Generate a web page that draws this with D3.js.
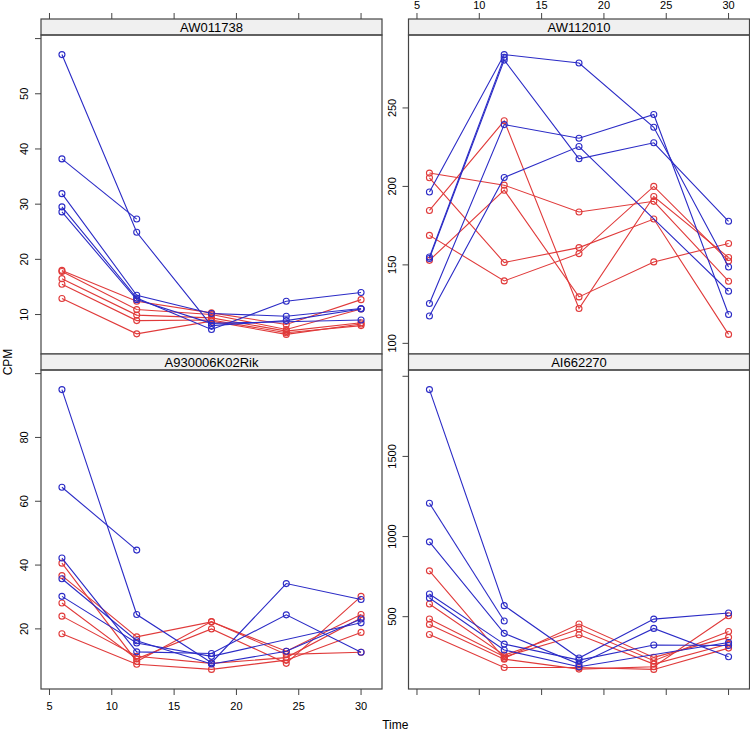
<!DOCTYPE html>
<html>
<head>
<meta charset="utf-8">
<script src="https://cdn.jsdelivr.net/npm/d3@7"></script>
<style>
    body { margin: 0; background: #ffffff; }
    text { font-family: "Liberation Sans", Arial, sans-serif; fill: #000000; }
</style>
</head>
<body>
<div id="chart"></div>
<script>
// sampling times (x axis)
var times = [6, 12, 18, 24, 30];
var genes = ["AW011738", "AW112010", "A930006K02Rik", "AI662270"];

// CPM per replicate, one row per line, null = missing sample
var aw011738Blue = [
    [57.1, 24.9, 8.0, 8.9, 11.0],
    [38.2, 27.3, null, null, null],
    [31.9, 13.5, 10.2, 9.7, 11.1],
    [29.5, 13.0, 7.3, 12.4, 14.0],
    [28.6, 12.7, 8.4, null, 9.0]
];
var aw011738Red = [
    [18.0, 12.4, 10.3, 8.2, 12.7],
    [17.8, 10.9, 10.0, 7.3, 11.0],
    [16.5, 9.9, 9.4, 7.0, 8.5],
    [15.5, 8.9, 9.0, 6.7, 8.0],
    [12.9, 6.5, 8.8, 6.4, 8.3]
];
var aw112010Blue = [
    [196.4, 284.0, 278.6, 237.7, 148.7],
    [155.0, 282.2, null, null, null],
    [154.1, 280.5, 217.6, 227.8, 177.8],
    [125.4, 239.4, 230.7, 245.8, 118.4],
    [117.4, 205.7, 225.4, null, 133.2]
];
var aw112010Red = [
    [208.5, 200.8, 183.7, 190.5, 139.6],
    [205.5, 151.5, 161.0, 179.2, 105.7],
    [184.7, 241.8, 122.2, 193.6, 154.7],
    [168.8, 139.8, 157.2, 200.0, 152.5],
    [152.9, 197.6, 129.6, 151.9, 163.6]
];
var a930006Blue = [
    [95.0, 24.5, 9.4, 34.2, 29.2],
    [64.4, 44.7, null, null, null],
    [42.2, 12.8, 12.3, 24.4, 12.7],
    [35.7, 16.3, 9.0, 13.0, 23.1],
    [30.2, 15.6, 11.4, null, 21.9]
];
var a930006Red = [
    [40.6, 9.8, 22.3, 12.0, 12.7],
    [36.7, 17.5, 22.2, 13.0, 24.5],
    [28.1, 10.6, 20.0, 9.2, 30.2],
    [24.0, 11.4, 9.2, 11.0, 23.4],
    [18.5, 8.9, 7.3, 10.2, 18.9]
];
var ai662270Blue = [
    [1917, 569, 242, 485, 523],
    [1208, 473, null, null, null],
    [967, 396, 204, 427, 250],
    [642, 329, 229, 323, 320],
    [617, 292, 188, null, 339]
];
var ai662270Red = [
    [786, 240, 454, 246, 371],
    [579, 260, 423, 225, 408],
    [486, 250, 387, 204, 329],
    [452, 235, 173, 188, 506],
    [389, 183, 183, 171, 304]
];

var width = 750;
var height = 731;
var blue = "#2b2bc6";
var red = "#e03a3a";
var frame = "#444444";

// panel geometry (lattice-like 2x2 layout)
var panelW = 341;
var panelH = 319;
var stripH = 16;
var colX = [41, 408.5];
var rowY = [19, 354];   // top of strip
var pad = 0.07;         // lattice axis padding

var panels = [
    { gene: genes[0], blue: aw011738Blue, red: aw011738Red, col: 0, row: 0 },
    { gene: genes[1], blue: aw112010Blue, red: aw112010Red, col: 1, row: 0 },
    { gene: genes[2], blue: a930006Blue, red: a930006Red, col: 0, row: 1 },
    { gene: genes[3], blue: ai662270Blue, red: ai662270Red, col: 1, row: 1 }
];

var svg = d3.select("#chart")
    .append("svg")
    .attr("width", width)
    .attr("height", height);

// shared x scale
var tExt = d3.extent(times);
var tPad = (tExt[1] - tExt[0]) * pad;
var x = d3.scaleLinear()
    .domain([tExt[0] - tPad, tExt[1] + tPad])
    .range([0, panelW]);

panels.forEach(function(p){
    var all = [];
    p.blue.concat(p.red).forEach(function(s){
        s.forEach(function(v){ if (v !== null) all.push(v); });
    });
    var ext = d3.extent(all);
    var vPad = (ext[1] - ext[0]) * pad;
    var y = d3.scaleLinear()
        .domain([ext[0] - vPad, ext[1] + vPad])
        .range([panelH, 0]);

    var g = svg.append("g")
        .attr("transform", "translate(" + colX[p.col] + "," + (rowY[p.row] + stripH) + ")");

    // strip
    g.append("rect")
        .attr("x", 0)
        .attr("y", -stripH)
        .attr("width", panelW)
        .attr("height", stripH)
        .attr("fill", "#f0f0f0")
        .attr("stroke", frame)
        .attr("stroke-width", 1.2);
    g.append("text")
        .attr("x", panelW / 2)
        .attr("y", -3.5)
        .attr("text-anchor", "middle")
        .style("font-size", "13px")
        .text(p.gene);

    // y axis on the left of every panel
    var yTicks = y.ticks(5);
    g.append("g").selectAll("line")
        .data(yTicks)
        .enter()
            .append("line")
            .attr("x1", -6)
            .attr("x2", 0)
            .attr("y1", function(d){ return y(d); })
            .attr("y2", function(d){ return y(d); })
            .attr("stroke", frame);
    g.append("g").selectAll("text")
        .data(yTicks.filter(function(d){ return y(d) > 8; }))
        .enter()
            .append("text")
            .attr("transform", function(d){ return "translate(-13," + y(d) + ") rotate(-90)"; })
            .attr("text-anchor", "middle")
            .style("font-size", "11px")
            .text(function(d){ return d; });

    // x ticks: top row on top of the strip, bottom row below the panel
    var xTicks = x.ticks(5);
    var tickY0 = p.row === 0 ? -stripH - 6 : panelH;
    g.append("g").selectAll("line")
        .data(xTicks)
        .enter()
            .append("line")
            .attr("x1", function(d){ return x(d); })
            .attr("x2", function(d){ return x(d); })
            .attr("y1", tickY0)
            .attr("y2", tickY0 + 6)
            .attr("stroke", frame);
    // labels alternate: top-right and bottom-left
    if ((p.row === 0 && p.col === 1) || (p.row === 1 && p.col === 0)) {
        g.append("g").selectAll("text")
            .data(xTicks)
            .enter()
                .append("text")
                .attr("x", function(d){ return x(d); })
                .attr("y", p.row === 0 ? -stripH - 10.5 : panelH + 21)
                .attr("text-anchor", "middle")
                .style("font-size", "11px")
                .text(function(d){ return d; });
    }

    // lines, red group first then blue
    var line = d3.line()
        .defined(function(d){ return d.v !== null; })
        .x(function(d){ return x(d.t); })
        .y(function(d){ return y(d.v); });

    [[p.red, red], [p.blue, blue]].forEach(function(grp){
        var series = grp[0].map(function(s){
            return s.map(function(v, i){ return { t: times[i], v: v }; })
                    .filter(function(d){ return d.v !== null; });
        });
        g.append("g").selectAll("path")
            .data(series)
            .enter()
                .append("path")
                .attr("d", line)
                .attr("fill", "none")
                .attr("stroke", grp[1])
                .attr("stroke-width", 1.1);
        g.append("g").selectAll("circle")
            .data(d3.merge(series))
            .enter()
                .append("circle")
                .attr("cx", function(d){ return x(d.t); })
                .attr("cy", function(d){ return y(d.v); })
                .attr("r", 3)
                .attr("fill", "none")
                .attr("stroke", grp[1])
                .attr("stroke-width", 1.1);
    });

    // panel border
    g.append("rect")
        .attr("width", panelW)
        .attr("height", panelH)
        .attr("fill", "none")
        .attr("stroke", frame)
        .attr("stroke-width", 1.2);
});

// axis titles
svg.append("text")
    .attr("x", (colX[0] + colX[1] + panelW) / 2)
    .attr("y", 729)
    .attr("text-anchor", "middle")
    .style("font-size", "12px")
    .text("Time");

svg.append("text")
    .attr("transform", "translate(12,362) rotate(-90)")
    .attr("text-anchor", "middle")
    .style("font-size", "12px")
    .text("CPM");
</script>
</body>
</html>
